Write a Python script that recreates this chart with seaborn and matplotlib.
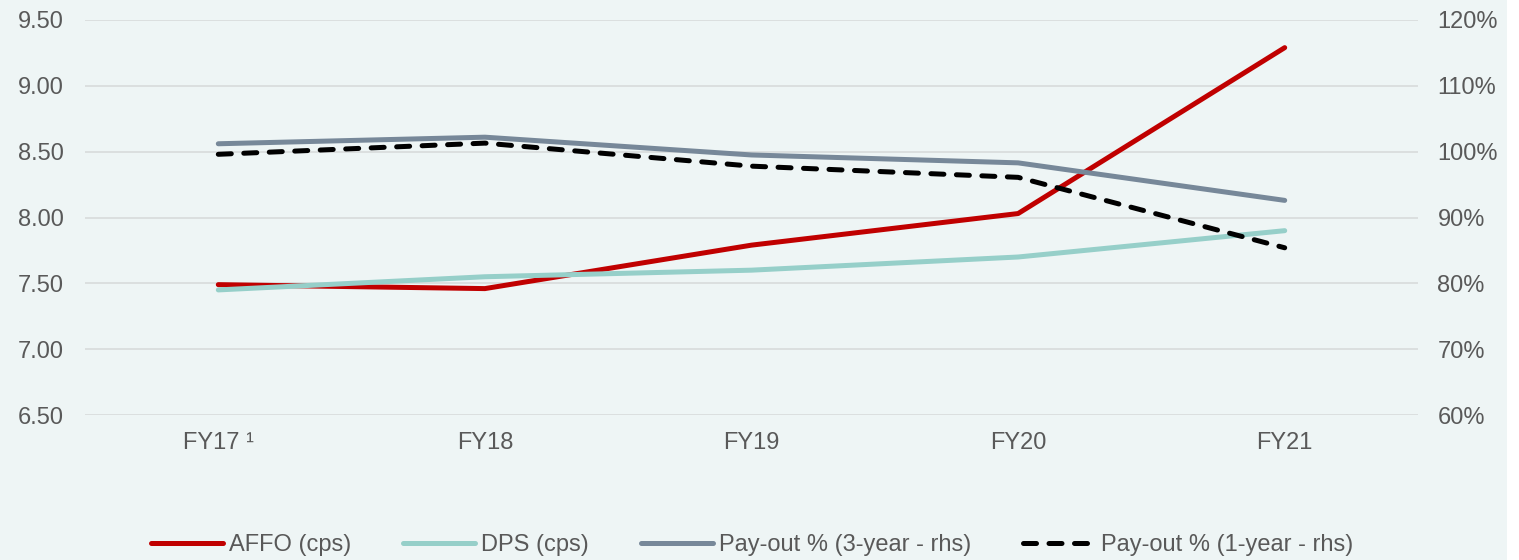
import pandas as pd
import numpy as np
import matplotlib.pyplot as plt
import seaborn as sns
from matplotlib.ticker import FuncFormatter
from matplotlib.patches import Rectangle

# values
years = ['FY17 ¹', 'FY18', 'FY19', 'FY20', 'FY21']
affo = [7.49, 7.46, 7.79, 8.03, 9.29]
dps = [7.45, 7.55, 7.60, 7.70, 7.90]
payout_3yr = [101.2, 102.2, 99.5, 98.3, 92.6]
payout_1yr = [99.6, 101.3, 97.8, 96.1, 85.4]

bg = '#EEF5F5'
text_col = '#595959'

sns.set_theme(style='white')
plt.rcParams['font.family'] = ['Liberation Sans', 'DejaVu Sans']

df = pd.DataFrame({'year': years, 'AFFO': affo, 'DPS': dps,
                   'P3': payout_3yr, 'P1': payout_1yr})
df['x'] = np.arange(len(years))

fig = plt.figure(figsize=(15.19, 5.60), dpi=100, facecolor=bg)
# white strip on the far right edge, as in the original export
fig.patches.append(Rectangle((1507 / 1519, 0), 12 / 1519, 1, transform=fig.transFigure,
                             facecolor='white', edgecolor='none', zorder=-1))
ax = fig.add_axes([85 / 1519, 1 - 415 / 560, (1418 - 85) / 1519, (415 - 20) / 560])
ax.set_facecolor(bg)
ax2 = ax.twinx()

lw = 3.6
sns.lineplot(data=df, x='x', y='AFFO', ax=ax, color='#C00000', lw=lw, label='AFFO (cps)', legend=False)
sns.lineplot(data=df, x='x', y='DPS', ax=ax, color='#96CFC9', lw=lw, label='DPS (cps)', legend=False)
sns.lineplot(data=df, x='x', y='P3', ax=ax2, color='#778899', lw=lw, label='Pay-out % (3-year - rhs)', legend=False)
sns.lineplot(data=df, x='x', y='P1', ax=ax2, color='black', lw=lw, ls=(0, (2.6, 2.5)),
             label='Pay-out % (1-year - rhs)', legend=False)
for line in ax.lines + ax2.lines:
    line.set_solid_capstyle('round')
    line.set_dash_capstyle('round')

ax.set_xlim(-0.5, len(years) - 0.5)
ax.set_ylim(6.5, 9.5)
ax.set_yticks(np.arange(6.5, 9.51, 0.5))
ax.yaxis.set_major_formatter(FuncFormatter(lambda v, p: f'{v:.2f}'))
ax2.set_ylim(60, 120)
ax2.set_yticks(np.arange(60, 121, 10))
ax2.yaxis.set_major_formatter(FuncFormatter(lambda v, p: f'{v:.0f}%'))
ax.set_xticks(df['x'])
ax.set_xticklabels(years)

ax.grid(axis='y', color='#DADDDD', lw=1.3)
ax.set_axisbelow(True)
for a in (ax, ax2):
    for s in a.spines.values():
        s.set_visible(False)
    a.set_xlabel('')
    a.set_ylabel('')
    a.tick_params(axis='both', length=0, labelsize=17, labelcolor=text_col)
ax.tick_params(axis='x', pad=12)
ax.tick_params(axis='y', pad=15)
ax2.tick_params(axis='y', pad=14)

handles = ax.lines + ax2.lines
labels = [h.get_label() for h in handles]
leg = fig.legend(handles, labels, loc='center', bbox_to_anchor=(752 / 1519, 1 - 545 / 560),
                 ncol=4, frameon=False, fontsize=17, handlelength=3.05, handletextpad=0.25,
                 columnspacing=2.2, labelcolor=text_col)

fig.savefig('out.png', dpi=100, facecolor=bg)
